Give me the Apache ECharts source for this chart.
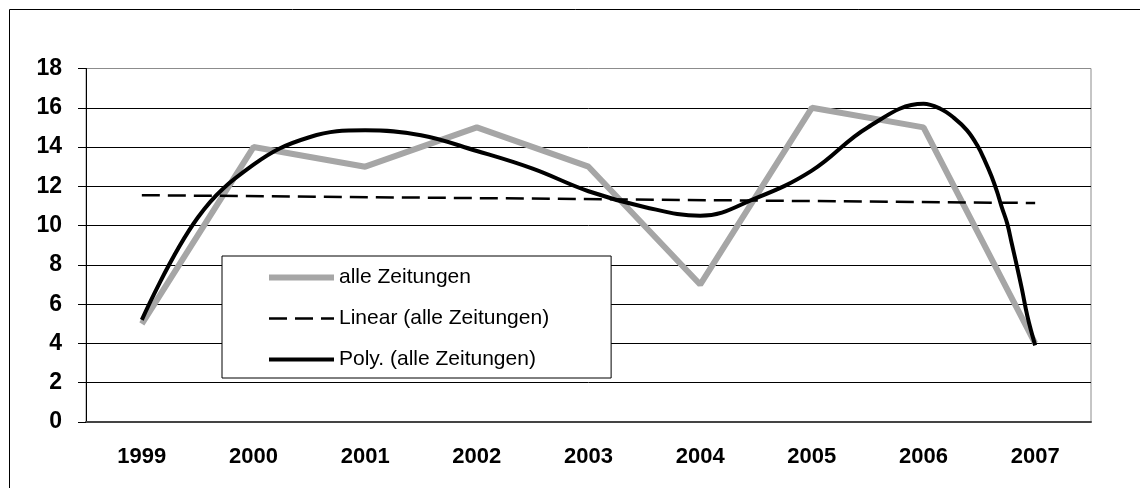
<!DOCTYPE html>
<html>
<head>
<meta charset="utf-8">
<script src="https://cdn.jsdelivr.net/npm/echarts@6/dist/echarts.min.js"></script>
<style>
  html, body { margin: 0; padding: 0; background: #fff; }
  #chart { width: 1140px; height: 488px; }
</style>
</head>
<body>
<div id="chart"></div>
<script>
var years = ['1999', '2000', '2001', '2002', '2003', '2004', '2005', '2006', '2007'];
var alleZeitungen = [5, 14, 13, 15, 13, 7, 16, 15, 4];
// trend lines, x = category index
var linearTrend = [[0, 11.55], [8, 11.15]];
var polyTrend = [
  [0, 5.2], [0.5, 10.4], [1, 13.1], [1.5, 14.5], [2, 14.85], [2.5, 14.6],
  [3, 13.8], [3.5, 12.9], [4, 11.75], [4.5, 10.95], [5, 10.5], [5.5, 11.4],
  [6, 12.8], [6.5, 15.0], [7, 16.2], [7.15, 15.95], [7.27, 15.5], [7.39, 14.85],
  [7.48, 14.1], [7.55, 13.3], [7.61, 12.5], [7.66, 11.7], [7.7, 10.95],
  [7.75, 10.1], [7.79, 9.1], [7.83, 8.1], [7.88, 6.8], [7.93, 5.4], [8, 3.9]
];
var yTicks = [0, 2, 4, 6, 8, 10, 12, 14, 16, 18];

var font = 'Liberation Sans, Arial, sans-serif';
var gridColors = yTicks.map(function (v) { return v === 18 ? '#8c8c8c' : '#000'; });

var myChart = echarts.init(document.getElementById('chart'));
var option = {
  animation: false,
  backgroundColor: '#fff',
  graphic: [{
    type: 'rect',
    shape: { x: 9.5, y: 9.5, width: 1300, height: 700 },
    style: { fill: 'none', stroke: '#000', lineWidth: 1 },
    silent: true
  }],
  grid: {
    left: 86,
    right: 49,
    top: 68.5,
    bottom: 66,
    show: true,
    borderColor: '#8c8c8c',
    borderWidth: 1
  },
  legend: {
    orient: 'vertical',
    left: 222,
    top: 256,
    padding: [11, 62, 8, 44],
    itemGap: 20,
    itemWidth: 65,
    itemHeight: 14,
    itemStyle: { opacity: 0 },
    lineStyle: { width: 'inherit' },
    backgroundColor: '#fff',
    borderColor: '#000',
    borderWidth: 1,
    borderRadius: 0,
    textStyle: { fontFamily: font, fontSize: 21, color: '#000' },
    data: ['alle Zeitungen', 'Linear (alle Zeitungen)', 'Poly. (alle Zeitungen)']
  },
  xAxis: [{
    type: 'category',
    data: years,
    boundaryGap: true,
    axisLine: { lineStyle: { color: '#444', width: 2 } },
    axisTick: { length: 7, lineStyle: { color: '#000' } },
    axisLabel: { fontFamily: font, fontSize: 22, fontWeight: 'bold', color: '#000', margin: 24 },
    splitLine: { show: false }
  }, {
    type: 'value',
    min: -0.5,
    max: 8.5,
    show: false
  }],
  yAxis: {
    type: 'value',
    min: 0,
    max: 18,
    interval: 2,
    axisLine: { show: true, onZero: false, lineStyle: { color: '#000', width: 1 } },
    axisTick: { show: true, length: 8, lineStyle: { color: '#000' } },
    axisLabel: { fontFamily: font, fontSize: 23, fontWeight: 'bold', color: '#000', margin: 24 },
    splitLine: { show: true, lineStyle: { color: gridColors, width: 1 } }
  },
  series: [
    {
      name: 'alle Zeitungen',
      type: 'line',
      data: alleZeitungen,
      symbol: 'none',
      color: '#a6a6a6',
      lineStyle: { color: '#a6a6a6', width: 6 },
      z: 2
    },
    {
      name: 'Linear (alle Zeitungen)',
      type: 'line',
      xAxisIndex: 1,
      data: linearTrend,
      symbol: 'none',
      color: '#000',
      lineStyle: { color: '#000', width: 2.5, type: [18, 8] },
      z: 3
    },
    {
      name: 'Poly. (alle Zeitungen)',
      type: 'line',
      xAxisIndex: 1,
      data: polyTrend,
      smooth: 0.4,
      symbol: 'none',
      color: '#000',
      lineStyle: { color: '#000', width: 4 },
      z: 4
    }
  ]
};
myChart.setOption(option);
</script>
</body>
</html>
